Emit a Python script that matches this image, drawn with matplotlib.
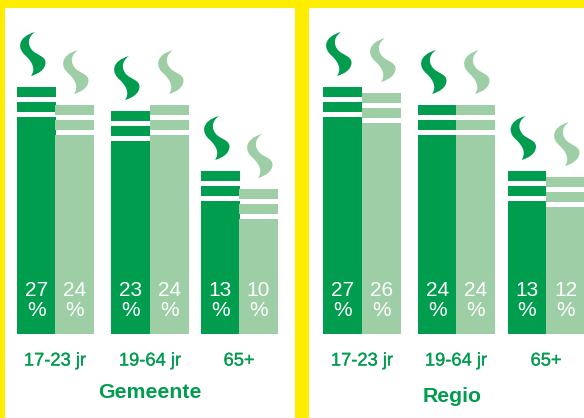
import matplotlib
matplotlib.use("Agg")
import matplotlib.pyplot as plt
import matplotlib.patheffects as pe
from matplotlib.patches import PathPatch, Rectangle
from matplotlib.path import Path

plt.rcParams['font.family'] = ['Liberation Sans', 'DejaVu Sans']

# percentages
age_groups = ["17-23 jr", "19-64 jr", "65+"]
gemeente_dark = [27, 23, 13]
gemeente_light = [24, 24, 10]
regio_dark = [27, 24, 13]
regio_light = [26, 24, 12]

DARK = "#009D4E"
LIGHT = "#9DCEA6"
YELLOW = "#FFED00"
PX = 6.0  # pixels per percent
ZERO = 279  # pixel row of 0 percent
BOTTOM = (ZERO - 334) / PX

fig = plt.figure(figsize=(5.84, 4.18), dpi=100)
ax = fig.add_axes([0, 0, 1, 1])
ax.set_xlim(0, 584)
ax.set_ylim((ZERO - 418) / PX, ZERO / PX)
ax.axis('off')

# yellow frame, in figure fractions
for x0, y0, w, h in [(0, 0, 5, 418), (295, 0, 14, 418), (0, 0, 584, 8)]:
    fig.patches.append(Rectangle((x0 / 584, 1 - (y0 + h) / 418), w / 584, h / 418,
                                 transform=fig.transFigure, color=YELLOW, lw=0))

# smoke outline, pixels from the bar's left edge / top of upper band
smoke_shape = [(18, -55),
               (11, -50), (10, -43), (15, -37),
               (19, -32), (29, -31), (28.5, -24),
               (28, -17), (21, -13), (14, -11),
               (18, -17), (17, -23), (9, -31),
               (0, -38), (0, -50), (18, -55)]
smoke_codes = [Path.MOVETO] + [Path.CURVE4] * 15


def draw_smoke(x, band_top, dx, color):
    verts = [(x + dx + a, (ZERO - (band_top + b)) / PX) for a, b in smoke_shape]
    ax.add_patch(PathPatch(Path(verts, smoke_codes), fc=color, ec='none'))


def draw_column(x, width, value, color, dx):
    ax.bar(x, value - BOTTOM, width, bottom=BOTTOM, align='edge', color=color, lw=0)
    # two loose bands above the body
    ax.bar(x, 10 / PX, width, bottom=value + 5 / PX, align='edge', color=color, lw=0)
    ax.bar(x, 10 / PX, width, bottom=value + 20 / PX, align='edge', color=color, lw=0)
    draw_smoke(x, ZERO - value * PX - 30, dx, color)
    ax.text(x + width / 2, (ZERO - 290) / PX, str(value), color='white', fontsize=15,
            ha='center', va='center')
    ax.text(x + width / 2, (ZERO - 311) / PX, "%", color='white', fontsize=15,
            ha='center', va='center')


def draw_panel(dark, light, dark_x, light_x, title, title_x, title_y):
    for i, group in enumerate(age_groups):
        draw_column(dark_x[i], 38.5, dark[i], DARK, 0)
        draw_column(light_x[i], 39, light[i], LIGHT, 5)
        t = ax.text(light_x[i], (ZERO - 361) / PX, group, color=DARK, fontsize=13.2,
                    ha='center', va='center')
        t.set_path_effects([pe.withStroke(linewidth=0.2, foreground=DARK)])
    ax.text(title_x, (ZERO - title_y) / PX, title, color=DARK, fontsize=15.3,
            fontweight='bold', ha='center', va='center')


draw_panel(gemeente_dark, gemeente_light, [17, 111, 201], [55, 150, 239],
           "Gemeente", 150, 393)
draw_panel(regio_dark, regio_light, [323, 418, 507.5], [362, 456, 546],
           "Regio", 452, 396)

fig.savefig("out.png", dpi=100)
